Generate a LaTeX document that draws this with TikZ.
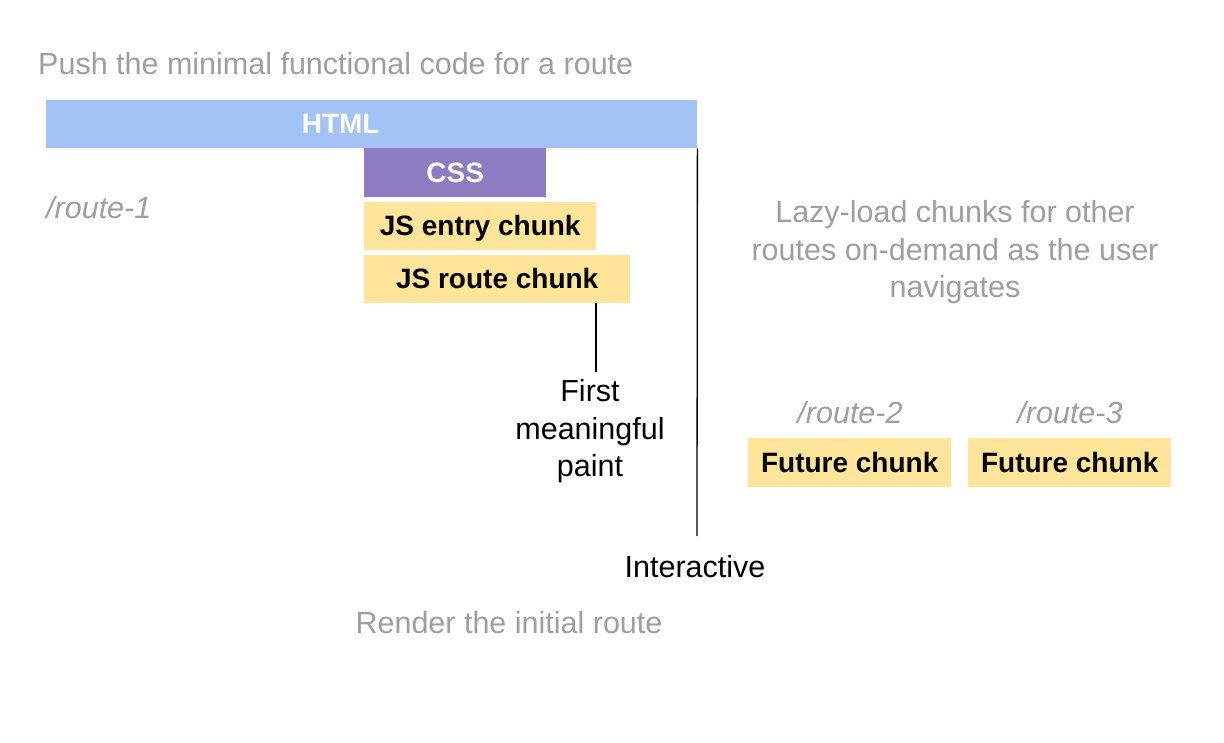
\documentclass[tikz,border=0pt]{standalone}
\usepackage{fontspec}
\setmainfont{Liberation Sans}
\definecolor{htmlblue}{HTML}{A4C2F4}
\definecolor{csspurple}{HTML}{8E7CC3}
\definecolor{chunkyellow}{HTML}{FFE599}
\definecolor{softgray}{HTML}{9E9E9E}
\begin{document}
\begin{tikzpicture}[x=1pt,y=-1pt,
  bigfont/.style={font=\fontsize{30.5}{37.5}\selectfont},
  bar/.style={font=\fontsize{28}{37.5}\selectfont\bfseries, draw=none, inner sep=0pt, anchor=north west, text height=20pt, text depth=1pt},
  chunk/.style={bar, fill=chunkyellow, text=black},
  graytext/.style={bigfont, text=softgray, inner sep=0pt},
  routetext/.style={graytext, font=\fontsize{30.5}{37.5}\selectfont\itshape},
  blacktext/.style={bigfont, text=black, inner sep=0pt},
  marker/.style={line width=1.3pt, black}]
\useasboundingbox (0,0) rectangle (1224,742);

% title
\node[graytext, anchor=base west] (title) at (38,74) {Push the minimal functional code for a route};

% bars
\node[bar, fill=htmlblue, text=white, minimum width=651pt, minimum height=48pt] (html) at (46,100) {\hspace*{-62pt}HTML};
\node[bar, fill=csspurple, text=white, minimum width=182pt, minimum height=49pt] (css) at (364,148) {CSS};
\node[chunk, minimum width=232pt, minimum height=48pt] (jsentry) at (364,202) {JS entry chunk};
\node[chunk, minimum width=266pt, minimum height=48pt] (jsroute) at (364,255) {JS route chunk};

\node[routetext, anchor=base west] (route1) at (46,218) {/route-1};

% first meaningful paint
\coordinate (fmpend) at (596,372);
\draw[marker] (jsroute.south -| fmpend) -- (fmpend);
\node[blacktext, align=center, anchor=north] (fmp) at (590,379.5) {First\\meaningful\\paint};

% interactive
\coordinate (intend) at (697,536);
\draw[marker] (html.south east) -- (intend);
\node[blacktext, anchor=base] (interactive) at (695,577) {Interactive};

\node[graytext, anchor=base] (render) at (509,633) {Render the initial route};

% lazy load
\node[graytext, align=center, anchor=north] (lazy) at (955,200.5) {Lazy-load chunks for other\\routes on-demand as the user\\navigates};

\node[routetext, anchor=base] (route2) at (850,423) {/route-2};
\node[routetext, anchor=base] (route3) at (1070,423) {/route-3};

\node[chunk, minimum width=203pt, minimum height=49pt] (future2) at (748,438) {Future chunk};
\node[chunk, minimum width=203pt, minimum height=49pt] (future3) at (968,438) {Future chunk};
\end{tikzpicture}
\end{document}
